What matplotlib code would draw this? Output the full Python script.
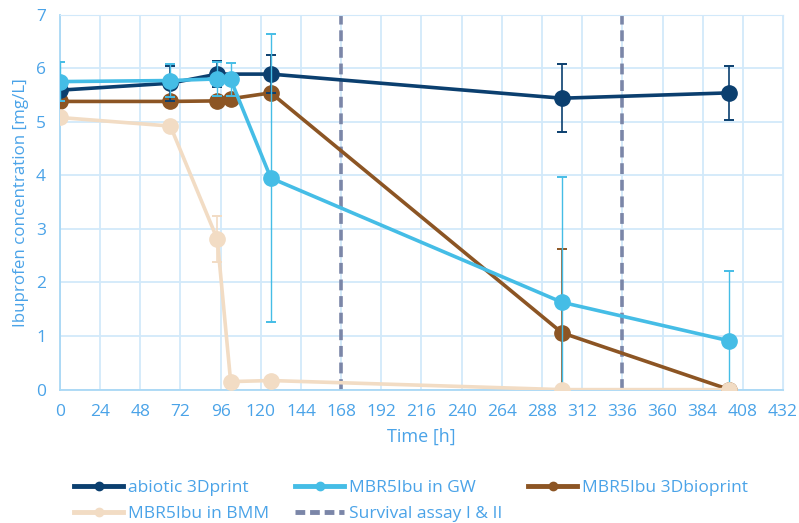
import matplotlib.pyplot as plt
from matplotlib.lines import Line2D

plt.rcParams['font.family'] = ['Open Sans', 'DejaVu Sans']

# Sampling times [h]
t_abiotic = [0, 66, 94, 126, 300, 400]
t_bio = [0, 66, 94, 102, 126, 300, 400]

# Ibuprofen concentration [mg/L] and standard deviations
abiotic = [5.59, 5.72, 5.89, 5.89, 5.44, 5.54]
abiotic_err = [0.0, 0.33, 0.25, 0.36, 0.63, 0.50]

gw = [5.75, 5.77, 5.80, 5.79, 3.95, 1.63, 0.91]
gw_err = [0.36, 0.31, 0.32, 0.31, 2.69, 2.33, 1.31]

bioprint = [5.38, 5.38, 5.39, 5.43, 5.54, 1.06, 0.0]
bioprint_err = [0.0, 0.0, 0.0, 0.0, 0.0, 1.57, 0.0]

bmm = [5.08, 4.92, 2.81, 0.15, 0.17, 0.0, 0.0]
bmm_err = [0.0, 0.0, 0.43, 0.0, 0.0, 0.0, 0.0]

survival_times = [168, 336]

c_dark = '#0b3f6f'
c_light = '#45bde6'
c_brown = '#8c5524'
c_beige = '#f2dcc4'
c_dash = '#7b86a8'
c_text = '#4aa3e8'
c_grid = '#d2e9fa'

fig, ax = plt.subplots(figsize=(7.99, 5.23), dpi=100)
fig.subplots_adjust(left=0.075, right=0.98, top=0.972, bottom=0.255)


def series(t, y, err, color, z, elw=1.2):
    ax.plot(t, y, color=color, lw=2.6, marker='o', ms=11, zorder=z)
    # only draw error bars where a deviation exists
    te = [a for a, e in zip(t, err) if e > 0]
    ye = [b for b, e in zip(y, err) if e > 0]
    ee = [e for e in err if e > 0]
    ax.errorbar(te, ye, yerr=ee, fmt='none', ecolor=color, elinewidth=elw,
                capsize=3.5, capthick=1.4, zorder=z)


series(t_bio, bioprint, bioprint_err, c_brown, 3)
series(t_abiotic, abiotic, abiotic_err, c_dark, 4)
series(t_bio, gw, gw_err, c_light, 5, elw=1.0)
series(t_bio, bmm, bmm_err, c_beige, 6)

for t in survival_times:
    ax.axvline(t, color=c_dash, lw=2.6, ls=(0, (3, 1.6)), zorder=2)

ax.set_xlim(0, 432)
ax.set_ylim(0, 7)
ax.set_xticks(range(0, 433, 24))
ax.set_yticks(range(0, 8))
ax.grid(True, color=c_grid, lw=1.3, zorder=0)
ax.set_axisbelow(True)
for side in ['top', 'right']:
    ax.spines[side].set_color(c_grid)
for side in ['left', 'bottom']:
    ax.spines[side].set_color('#a9d8f5')
    ax.spines[side].set_linewidth(1.3)
ax.tick_params(length=0, colors=c_text, labelsize=12.5, pad=10)
ax.set_xlabel('Time [h]', color=c_text, fontsize=13, labelpad=6)
ax.set_ylabel('Ibuprofen concentration [mg/L]', color=c_text, fontsize=12.2, labelpad=5)

# legend filled column-wise, so order gives rows: 3 on top, 2 below
handles = [
    Line2D([], [], color=c_dark, lw=3.5, marker='o', ms=6),
    Line2D([], [], color=c_beige, lw=3.5, marker='o', ms=6),
    Line2D([], [], color=c_light, lw=3.5, marker='o', ms=6),
    Line2D([], [], color=c_dash, lw=3.5, ls=(0, (2, 1))),
    Line2D([], [], color=c_brown, lw=3.5, marker='o', ms=6),
]
labels = ['abiotic 3Dprint', 'MBR5Ibu in BMM', 'MBR5Ibu in GW',
          'Survival assay I & II', 'MBR5Ibu 3Dbioprint']
leg = fig.legend(handles, labels, loc='lower left', ncol=3, frameon=False,
                 bbox_to_anchor=(0.08, -0.018), fontsize=12.5, handlelength=2.8,
                 handletextpad=0.3, columnspacing=1.5, labelspacing=0.55,
                 borderaxespad=0.2)
for txt in leg.get_texts():
    txt.set_color(c_text)

plt.savefig('out.png', dpi=100)
